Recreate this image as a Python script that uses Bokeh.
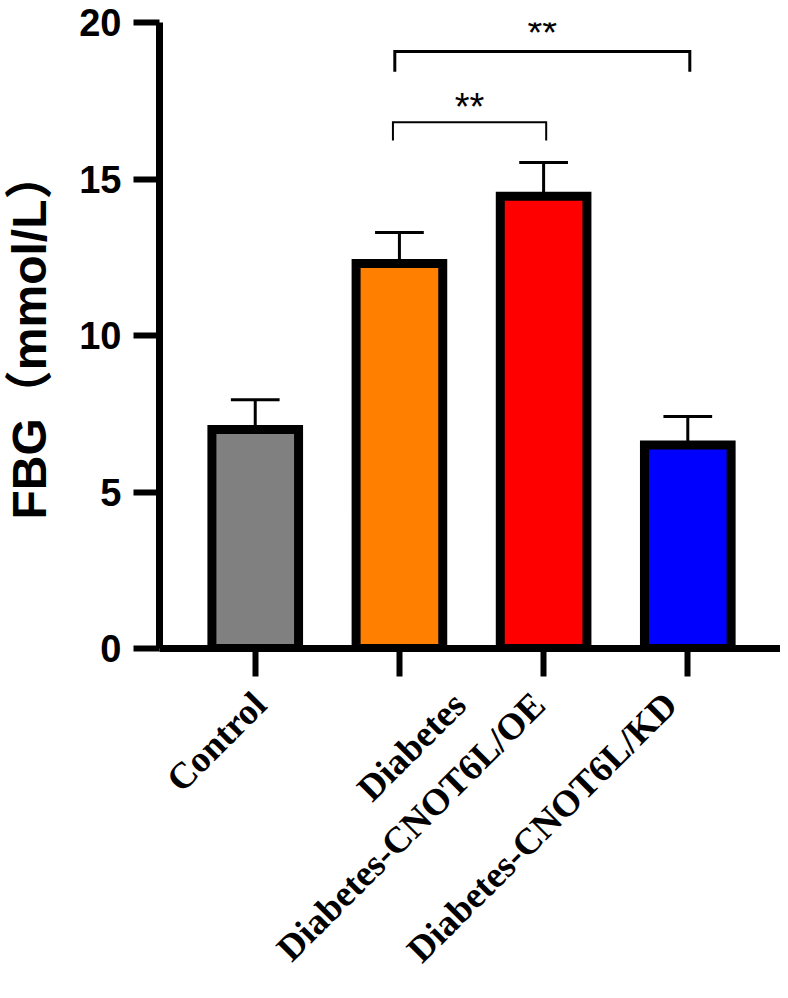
import math
from bokeh.plotting import figure
from bokeh.models import Range1d, FixedTicker, Label, ColumnDataSource, LinearAxis
from bokeh.embed import file_html
from bokeh.resources import INLINE

# ---- data ----
groups = ["Control", "Diabetes", "Diabetes-CNOT6L/OE", "Diabetes-CNOT6L/KD"]
means = [7.0, 12.3, 14.45, 6.5]
sds = [0.95, 0.99, 1.08, 0.91]
colors = ["#808080", "#FF8000", "#FF0000", "#0000FF"]
y_ticks = [0, 5, 10, 15, 20]
# significance brackets: (left group, right group, label)
comparisons = [(1, 2, "**"), (1, 3, "**")]

# ---- layout / style (positions in axis units, not data) ----
bracket_y = [(16.81, 16.23), (19.07, 18.43)]      # (bar level, tip level)
bracket_dx = [(-0.045, 0.018), (-0.032, 0.014)]   # end nudges
label_dx = [0.03, 0.415, -0.034, -0.12]           # x tick label anchor nudges

xs = list(range(len(groups)))

p = figure(width=780, height=990, output_backend="svg", toolbar_location=None,
           x_range=Range1d(-0.664, 3.643), y_range=Range1d(0, 20),
           min_border_left=157, min_border_right=0, min_border_top=22,
           min_border_bottom=342)
p.outline_line_color = None
p.xgrid.visible = False
p.ygrid.visible = False
p.background_fill_color = "white"
p.border_fill_color = "white"

src = ColumnDataSource(dict(x=xs, top=means, color=colors))
p.vbar(x="x", top="top", bottom=0, width=0.601, source=src,
       fill_color="color", line_color="black", line_width=9,
       line_join="miter")

# error bars (upper only)
tops = [m + s for m, s in zip(means, sds)]
p.segment(x0=xs, y0=means, x1=xs, y1=tops, line_color="black", line_width=3)
cap = 0.169
p.segment(x0=[x - cap for x in xs], y0=tops, x1=[x + cap for x in xs], y1=tops,
          line_color="black", line_width=3)

# significance brackets
for i, (g0, g1, lab) in enumerate(comparisons):
    yb, yt = bracket_y[i]
    xl = g0 + bracket_dx[i][0]
    xr = g1 + bracket_dx[i][1]
    lw = 2 if i == 0 else 3
    p.line(x=[xl, xl, xr, xr], y=[yt, yb, yb, yt], line_color="black",
           line_width=lw, line_join="miter")
    p.add_layout(Label(x=(xl + xr) / 2, y=yb + 0.5 + 0.1 * i, text=lab,
                       text_font="Liberation Sans", text_font_size="38px",
                       text_align="center", text_baseline="alphabetic",
                       text_color="black"))

# y axis
ya = p.yaxis[0]
ya.ticker = FixedTicker(ticks=y_ticks)
ya.axis_line_width = 7
ya.major_tick_line_width = 6
ya.major_tick_out = 26
ya.major_tick_in = 0
ya.minor_tick_line_color = None
ya.major_label_text_font = "Liberation Sans"
ya.major_label_text_font_style = "bold"
ya.major_label_text_font_size = "38px"
ya.major_label_text_color = "black"
ya.major_label_standoff = 12
ya.axis_label = "FBG（mmol/L）"
ya.axis_label_standoff = 20
ya.axis_label_text_font = "Liberation Sans, Noto Sans CJK SC"
ya.axis_label_text_font_style = "bold"
ya.axis_label_text_font_size = "48px"
ya.axis_label_text_color = "black"

# x axis: tick marks at the groups, no labels
xa = p.xaxis[0]
xa.ticker = FixedTicker(ticks=xs)
xa.major_label_text_font_size = "1px"
xa.major_label_text_color = None
xa.major_label_standoff = 0
xa.axis_line_width = 7
xa.major_tick_line_width = 6
xa.major_tick_out = 28
xa.major_tick_in = 0
xa.minor_tick_line_color = None

# second x axis carrying the rotated group names
lab_pos = [round(i + d, 3) for i, d in enumerate(label_dx)]
xa2 = LinearAxis(ticker=FixedTicker(ticks=lab_pos),
                 major_label_overrides={pos: g for pos, g in zip(lab_pos, groups)},
                 axis_line_color=None, major_tick_line_color=None,
                 major_tick_out=0, major_tick_in=0,
                 minor_tick_line_color=None,
                 major_label_orientation=math.pi / 4,
                 major_label_standoff=22,
                 major_label_text_font="Liberation Serif",
                 major_label_text_font_style="bold",
                 major_label_text_font_size="37px",
                 major_label_text_color="black")
p.add_layout(xa2, "below")

open("out.html", "w").write(file_html(p, INLINE))
